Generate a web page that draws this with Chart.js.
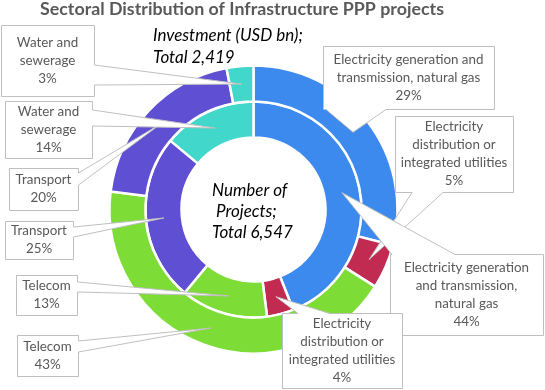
<!DOCTYPE html>
<html>
<head>
<meta charset="utf-8">
<script src="https://cdn.jsdelivr.net/npm/chart.js@4.4.1/dist/chart.umd.min.js"></script>
<style>
  html, body { margin: 0; padding: 0; background: #fff; }
</style>
</head>
<body>
<canvas id="pppChart" width="545" height="390"></canvas>
<script>
// sectors, clockwise from 12 o'clock
const sectors = [
    'Electricity generation and transmission, natural gas',
    'Electricity distribution or integrated utilities',
    'Telecom',
    'Transport',
    'Water and sewerage'
]
const investmentShare = [29, 5, 43, 20, 3]   // outer ring, %
const projectShare = [44, 4, 13, 25, 14]     // inner ring, %
const sectorColors = ['#3c8aed', '#c12a51', '#7ddc36', '#5f4fd3', '#42d7cb']

const titleText = 'Sectoral Distribution of Infrastructure PPP projects'
const investmentCaption = ['Investment (USD bn);', 'Total 2,419']
const projectCaption = ['Number of', 'Projects;', 'Total 6,547']

// label text per ring, wrapped as in the picture
const investmentLabelLines = [
    ['Electricity generation and', 'transmission, natural gas'],
    ['Electricity', 'distribution or', 'integrated utilities'],
    ['Telecom'],
    ['Transport'],
    ['Water and', 'sewerage']
]
const projectLabelLines = [
    ['Electricity generation', 'and transmission,', 'natural gas'],
    ['Electricity', 'distribution or', 'integrated utilities'],
    ['Telecom'],
    ['Transport'],
    ['Water and', 'sewerage']
]

// callout boxes: x, y, w, h and where the pointer leaves the box
const investmentBoxes = [
    {x: 323, y: 46, w: 171, h: 63, side: 'bottom', a: 326, b: 386},
    {x: 395, y: 116, w: 118, h: 76, side: 'bottom', a: 412, b: 443},
    {x: 17, y: 335, w: 61, h: 41, side: 'right', a: 341, b: 352},
    {x: 9, y: 168, w: 69, h: 42, side: 'right', a: 173, b: 185},
    {x: 1, y: 25, w: 93, h: 71, side: 'right', a: 65, b: 85}
]
const projectBoxes = [
    {x: 390, y: 254, w: 153, h: 81, side: 'top', a: 392, b: 455},
    {x: 282, y: 313, w: 120, h: 75, side: 'top', a: 298, b: 330},
    {x: 16, y: 275, w: 61, h: 40, side: 'right', a: 282, b: 292},
    {x: 5, y: 221, w: 68, h: 38, side: 'right', a: 227, b: 237},
    {x: 5, y: 101, w: 87, h: 57, side: 'right', a: 110, b: 126}
]

const FONT = 'Lato'
const GREY = '#595959'

function fitSize(ctx, text, style, width){
    ctx.font = `${style} 100px ${FONT}`
    return 100 * width / ctx.measureText(text).width
}

function calloutPath(ctx, box, tip){
    const {x, y, w, h, side, a, b} = box
    const l = x + 0.5, t = y + 0.5, r = x + w + 0.5, btm = y + h + 0.5
    ctx.beginPath()
    ctx.moveTo(l, t)
    if(side === 'top'){
        ctx.lineTo(a, t); ctx.lineTo(tip.x, tip.y); ctx.lineTo(b, t)
    }
    ctx.lineTo(r, t)
    if(side === 'right'){
        ctx.lineTo(r, a); ctx.lineTo(tip.x, tip.y); ctx.lineTo(r, b)
    }
    ctx.lineTo(r, btm)
    if(side === 'bottom'){
        ctx.lineTo(b, btm); ctx.lineTo(tip.x, tip.y); ctx.lineTo(a, btm)
    }
    ctx.lineTo(l, btm)
    ctx.closePath()
}

function drawCallouts(chart, datasetIndex, boxes, lines, values, fontSize){
    const ctx = chart.ctx
    const arcs = chart.getDatasetMeta(datasetIndex).data
    arcs.forEach((arc, i) => {
        const box = boxes[i]
        const tip = arc.tooltipPosition()
        calloutPath(ctx, box, tip)
        ctx.fillStyle = '#ffffff'
        ctx.fill()
        ctx.strokeStyle = '#bfbfbf'
        ctx.lineWidth = 1
        ctx.stroke()

        const text = [...lines[i], `${values[i]}%`]
        const lineHeight = 18
        const cx = box.x + box.w / 2
        const cy = box.y + box.h / 2
        ctx.fillStyle = GREY
        ctx.font = `${fontSize}px ${FONT}`
        ctx.textAlign = 'center'
        ctx.textBaseline = 'middle'
        text.forEach((line, k) => {
            ctx.fillText(line, cx, cy + (k - (text.length - 1) / 2) * lineHeight)
        })
    })
}

const textPlugin = {
    id: 'pppText',
    afterDraw(chart){
        const ctx = chart.ctx
        ctx.save()

        // title
        const titleSize = fitSize(ctx, titleText, 'bold', 404)
        ctx.font = `bold ${titleSize}px ${FONT}`
        ctx.fillStyle = GREY
        ctx.textAlign = 'center'
        ctx.textBaseline = 'alphabetic'
        ctx.fillText(titleText, 242, 15)

        // ring captions
        const capSize = fitSize(ctx, investmentCaption[0], 'italic', 150)
        ctx.font = `italic ${capSize}px ${FONT}`
        ctx.fillStyle = '#000000'
        ctx.textAlign = 'left'
        ctx.fillText(investmentCaption[0], 153, 41)
        ctx.fillText(investmentCaption[1], 153, 63)

        const lefts = [212, 216, 212]
        projectCaption.forEach((line, k) => {
            ctx.fillText(line, lefts[k], 196 + k * 21)
        })

        const labelSize = fitSize(ctx, investmentLabelLines[0][0], 'normal', 150)
        drawCallouts(chart, 0, investmentBoxes, investmentLabelLines, investmentShare, labelSize)
        drawCallouts(chart, 1, projectBoxes, projectLabelLines, projectShare, labelSize)

        ctx.restore()
    }
}

document.fonts.load(`13px ${FONT}`).then(() => Promise.all([
    document.fonts.load(`bold 13px ${FONT}`),
    document.fonts.load(`italic 13px ${FONT}`)
])).catch(() => {}).finally(() => {
    new Chart(document.getElementById('pppChart').getContext('2d'), {
        type: 'doughnut',
        data: {
            labels: sectors,
            datasets: [
                {
                    label: 'Investment (USD bn)',
                    data: investmentShare,
                    backgroundColor: sectorColors,
                    borderColor: '#ffffff',
                    borderWidth: 2.5
                },
                {
                    label: 'Number of Projects',
                    data: projectShare,
                    backgroundColor: sectorColors,
                    borderColor: '#ffffff',
                    borderWidth: 2.5
                }
            ]
        },
        options: {
            responsive: false,
            animation: false,
            cutout: '50%',
            layout: {
                padding: {left: 108.25, right: 146.25, top: 64.25, bottom: 35.25}
            },
            plugins: {
                legend: {display: false},
                title: {display: false},
                tooltip: {enabled: false}
            }
        },
        plugins: [textPlugin]
    })
})
</script>
</body>
</html>
